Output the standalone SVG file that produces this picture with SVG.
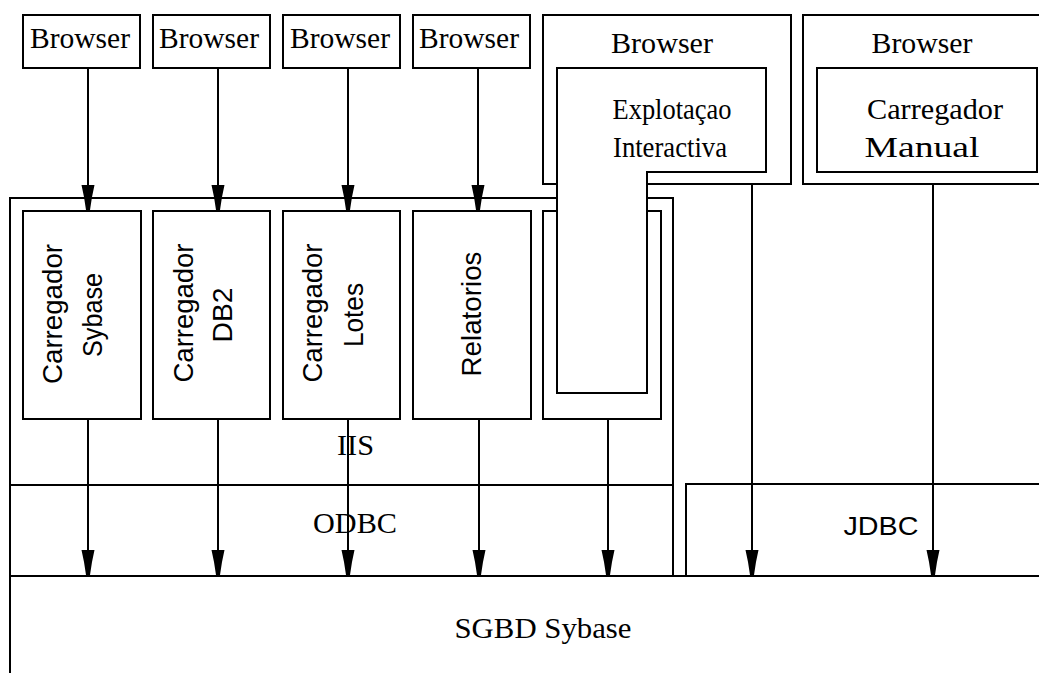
<svg xmlns="http://www.w3.org/2000/svg" width="1039" height="673" viewBox="0 0 1039 673">
<style>
.b{fill:#fff;stroke:#000;stroke-width:2}
.c{fill:none;stroke:#000;stroke-width:2}
.s{font-family:"Liberation Serif",serif;font-size:29px;fill:#000}
.r{font-family:"Liberation Sans",sans-serif;font-size:28px;fill:#000;text-anchor:middle}
.m{text-anchor:middle}
</style>
<defs>
<marker id="ah" markerUnits="userSpaceOnUse" markerWidth="30" markerHeight="16" viewBox="0 -8 30 16" refX="26" refY="0" orient="auto">
<path d="M0,-6.5 L0,6.5 L12,4 L25,2 L25,-2 L12,-4 Z" fill="#000"/>
</marker>
</defs>
<rect width="1039" height="673" fill="#fff"/>
<g id="sgbd"><rect class="b" x="10" y="576" width="1040" height="120"/><text class="s" x="543" y="638" text-anchor="middle" textLength="177" lengthAdjust="spacingAndGlyphs" font-size="28">SGBD Sybase</text></g>
<g id="ils"><rect class="b" x="10" y="198" width="663" height="287"/><text class="s m" x="355.5" y="455" font-size="27" textLength="37" lengthAdjust="spacingAndGlyphs">IIS</text></g>
<g id="odbc"><rect class="b" x="10" y="485" width="663" height="91"/><text class="s m" x="355" y="533" font-size="27" textLength="84" lengthAdjust="spacingAndGlyphs">ODBC</text></g>
<g id="jdbc"><rect class="b" x="686" y="484" width="360" height="92"/><text x="881" y="535" font-family="Liberation Sans,sans-serif" font-size="26" text-anchor="middle" textLength="75" lengthAdjust="spacingAndGlyphs">JDBC</text></g>
<g id="browser1"><rect class="b" x="23" y="15" width="117" height="53"/><text class="s m" x="80" y="48" textLength="100" lengthAdjust="spacingAndGlyphs">Browser</text></g>
<g id="browser2"><rect class="b" x="153" y="15" width="117" height="53"/><text class="s m" x="209" y="48" textLength="100" lengthAdjust="spacingAndGlyphs">Browser</text></g>
<g id="browser3"><rect class="b" x="283" y="15" width="117" height="53"/><text class="s m" x="340" y="48" textLength="100" lengthAdjust="spacingAndGlyphs">Browser</text></g>
<g id="browser4"><rect class="b" x="413" y="15" width="117" height="53"/><text class="s m" x="469" y="48" textLength="100" lengthAdjust="spacingAndGlyphs">Browser</text></g>
<g id="browser5"><rect class="b" x="543" y="15" width="248" height="169"/><text class="s m" x="662" y="53" textLength="102" lengthAdjust="spacingAndGlyphs">Browser</text></g>
<g id="browser6"><rect class="b" x="803" y="15" width="250" height="169"/><text class="s m" x="922" y="53" textLength="101" lengthAdjust="spacingAndGlyphs">Browser</text></g>
<g id="carregador-manual"><rect class="b" x="817" y="68" width="220" height="104"/><text class="s m" x="935" y="119" textLength="136" lengthAdjust="spacingAndGlyphs">Carregador</text><text class="s m" x="922" y="157" textLength="115" lengthAdjust="spacingAndGlyphs">Manual</text></g>
<g id="mod1"><rect class="b" x="23" y="211" width="118" height="208"/><text class="r" transform="translate(62,314) rotate(-90)" textLength="140" lengthAdjust="spacingAndGlyphs">Carregador</text><text class="r" transform="translate(102,315) rotate(-90)" textLength="84" lengthAdjust="spacingAndGlyphs">Sybase</text></g>
<g id="mod2"><rect class="b" x="153" y="211" width="117" height="208"/><text class="r" transform="translate(193,313) rotate(-90)" textLength="139" lengthAdjust="spacingAndGlyphs">Carregador</text><text class="r" transform="translate(232,315) rotate(-90)" textLength="55" lengthAdjust="spacingAndGlyphs">DB2</text></g>
<g id="mod3"><rect class="b" x="283" y="211" width="117" height="208"/><text class="r" transform="translate(322,313) rotate(-90)" textLength="139" lengthAdjust="spacingAndGlyphs">Carregador</text><text class="r" transform="translate(363,315) rotate(-90)" textLength="64" lengthAdjust="spacingAndGlyphs">Lotes</text></g>
<g id="mod4"><rect class="b" x="413" y="211" width="118" height="208"/><text class="r" transform="translate(481,314) rotate(-90)" textLength="125" lengthAdjust="spacingAndGlyphs">Relatorios</text></g>
<g id="mod5"><rect class="b" x="543" y="211" width="118" height="208"/></g>
<g id="explotacao"><path class="b" d="M557,68 H766 V172 H647 V393 H557 Z"/><text class="s m" x="672" y="119" textLength="119" lengthAdjust="spacingAndGlyphs">Explotaçao</text><text class="s m" x="670" y="157" textLength="114" lengthAdjust="spacingAndGlyphs">Interactiva</text></g>
<g id="connectors" class="c" marker-end="url(#ah)">
<path d="M88,68 V211"/>
<path d="M218,68 V211"/>
<path d="M348,68 V211"/>
<path d="M478,68 V211"/>
<path d="M88,419 V576"/>
<path d="M218,419 V576"/>
<path d="M348,419 V576"/>
<path d="M479,419 V576"/>
<path d="M608,419 V576"/>
<path d="M752,184 V576"/>
<path d="M933,184 V576"/>
</g>
</svg>
